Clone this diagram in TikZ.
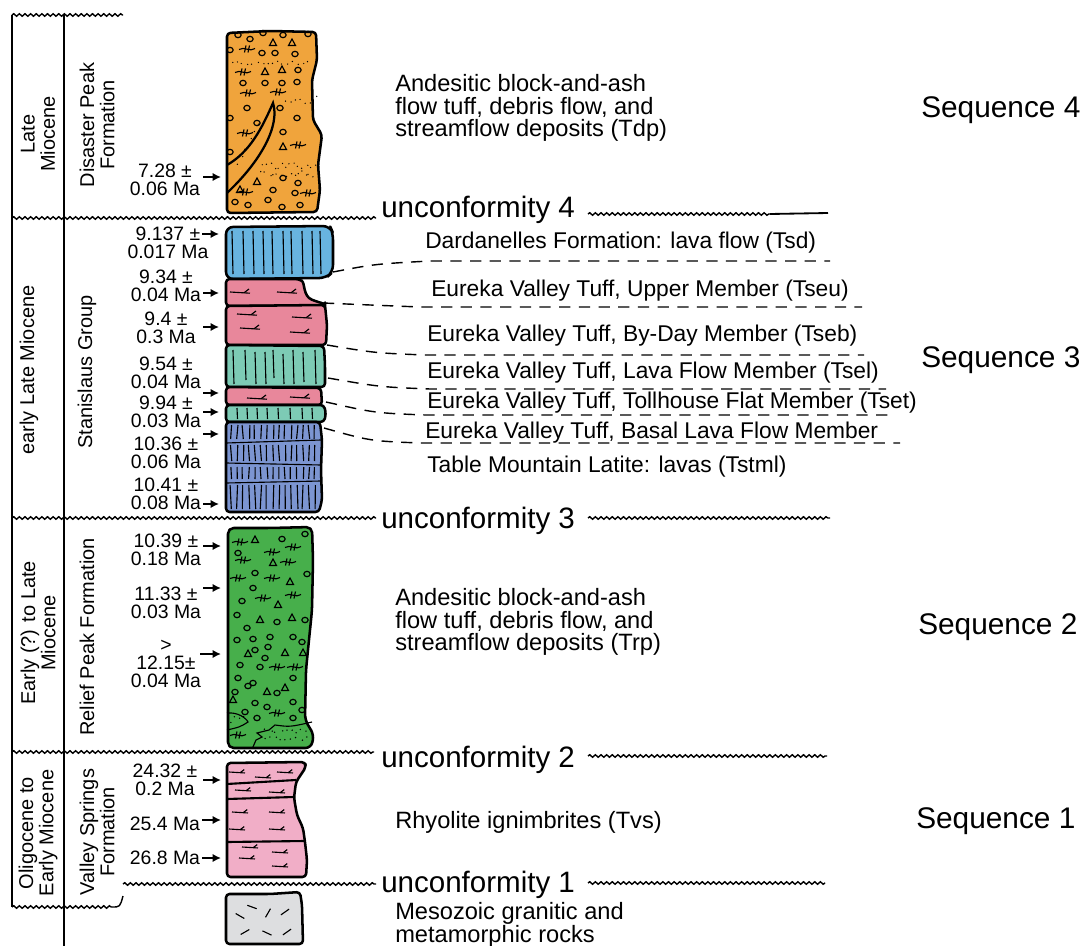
\documentclass[tikz,border=0pt]{standalone}
\usepackage{fontspec}
\setmainfont{Liberation Sans}
\usetikzlibrary{arrows.meta,decorations.pathmorphing,positioning}

\definecolor{tdporange}{HTML}{F0A43C}
\definecolor{tsdblue}{HTML}{68B4E0}
\definecolor{evtpink}{HTML}{E8879B}
\definecolor{evtgreen}{HTML}{7DCBB5}
\definecolor{tmlblue}{HTML}{7C95D1}
\definecolor{rpgreen}{HTML}{47AF4B}
\definecolor{vspink}{HTML}{F1AEC7}
\definecolor{granite}{HTML}{DDDEE0}

\tikzset{
  frame/.style={line width=1.4pt},
  unconf/.style={line width=1pt, decorate, decoration={snake, amplitude=0.9pt, segment length=4pt}},
  layer/.style={draw=black, line width=1.8pt, line join=round, rounded corners=2.5pt},
  hatch/.style={line width=0.8pt},
  contact/.style={line width=1pt, dash pattern=on 8pt off 6pt},
  agearrow/.style={line width=1.6pt, -{Latex[length=6pt,width=6pt]}},
  age/.style={align=center, inner sep=0pt, font=\fontsize{13.8}{12.8}\selectfont},
  unit/.style={rotate=90, align=center, inner sep=0pt, font=\fontsize{14.2}{14.4}\selectfont},
  desc/.style={anchor=west, align=left, inner sep=0pt, font=\fontsize{16.8}{16}\selectfont},
  member/.style={anchor=west, inner sep=0pt, font=\fontsize{16.2}{16}\selectfont},
  seq/.style={anchor=west, inner sep=0pt, font=\fontsize{21.2}{24}\selectfont},
  unclab/.style={anchor=base west, inner sep=0pt, font=\fontsize{21}{24}\selectfont},
  ring/.pic={\draw[hatch] (0,0) ellipse (2.3pt and 1.9pt);},
  tri/.pic={\draw[hatch] (-3.5,2.5) -- (3.5,2.5) -- (0,-4) -- cycle;},
  fmark/.pic={\draw[hatch] (-8,0.5) .. controls (-3,-3) and (3,3.5) .. (8,-0.5);
              \draw[hatch] (-1,-3.5) -- (-2.5,3.5); \draw[hatch] (2.5,-3.5) -- (1,3.5);},
  fiamme/.pic={\draw[hatch] (-10,0) -- (10,1.2); \draw[hatch] (4,0.8) -- (9,-3);},
}

\begin{document}
\begin{tikzpicture}[x=0.025cm, y=-0.025cm]
\pgfmathsetseed{11}
\useasboundingbox (0,0) rectangle (1087,946);

% frame of the age and unit columns
\draw[frame] (12,15) -- (12,907);
\draw[frame] (64,15) -- (64,946);
\draw[unconf] (12,15) -- (123,15);
\draw[unconf] (12,907) -- (112,907);
\draw[line width=1pt] (112,907) .. controls (120,907) .. (123,896);

% unconformities
\draw[unconf] (12,218) -- (376,218);
\draw[unconf] (588,214) -- (770,214);
\draw[line width=1.3pt] (770,214) -- (828,213);
\draw[unconf] (12,518) -- (376,518);
\draw[unconf] (588,518) -- (830,518);
\draw[unconf] (12,752) -- (374,752);
\draw[unconf] (588,756) -- (827,756);
\draw[unconf] (123,884) -- (376,884);
\draw[unconf] (588,883) -- (825,883);
\node[unclab] (unc4) at (381,218) {unconformity 4};
\node[unclab] (unc3) at (381,528) {unconformity 3};
\node[unclab] (unc2) at (381,767) {unconformity 2};
\node[unclab] (unc1) at (381,892) {unconformity 1};

% ages and formations
\node[unit] (ep1) at (38,134) {Late\\Miocene};
\node[unit] (fm1) at (97,125) {Disaster Peak\\Formation};
\node[unit] (ep2) at (29,370) {early Late Miocene};
\node[unit] (fm2) at (87,372) {Stanislaus Group};
\node[unit] (ep3) at (38,633) {Early (?) to Late\\Miocene};
\node[unit] (fm3) at (87,637) {Relief Peak Formation};
\node[unit] (ep4) at (38,833) {Oligocene to\\Early Miocene};
\node[unit] (fm4) at (97,832) {Valley Springs\\Formation};

% Disaster Peak Formation
\draw[layer, fill=tdporange] (227,33) -- (270,31) -- (316,32) -- (317,60) -- (312,80) -- (313,120)
  -- (322,135) -- (318,165) -- (320,190) -- (317,212) -- (227,213) -- cycle;
\foreach \x/\y in {238/35,250/39,263/33,283/35,308/34,230/50,262/53,275/53,295/54,298/70,
  243/83,265/83,282/83,297/82,247/108,257/123,297/118,280/108,230/118,283/132,230/152,
  273/190,268/200,283/178,298/183,295/193,235/202,248/205,282/207,300/205}
  \pic at (\x,\y) {ring};
\foreach \x/\y in {273/43,292/43,265/72,282/70,257/182,240/190,283/147}
  \pic at (\x,\y) {tri};
\foreach \x/\y in {247/49,243/72,248/93,278/92,245/133,298/145,245/192,308/193}
  \pic at (\x,\y) {fmark};
\foreach \x in {232,237,...,310} \fill ({\x+2*rand},{63+2*rand}) circle (0.5pt);
\foreach \x in {285,290,...,315} \fill ({\x+2*rand},{100+4*rand}) circle (0.5pt);
\foreach \x in {262,266,...,314} {
  \fill ({\x+2*rand},{166+3*rand}) circle (0.5pt);
  \fill ({\x+2*rand},{174+3*rand}) circle (0.5pt);
}
\draw[line width=1.6pt] (227,165) .. controls (250,152) and (262,128) .. (273,103)
  .. controls (280,125) and (262,160) .. (227,193);
\foreach \t in {0.2,0.3,...,0.8} \fill ({227+46*\t+2*rand},{178-75*\t+2*rand}) circle (0.5pt);

% Stanislaus Group
\draw[layer, fill=tsdblue, rounded corners=5pt] (226,227) -- (330,226) -- (333,233) -- (333,272)
  -- (326,278) -- (226,279) -- cycle;
\foreach \x in {232,243,253,263,272,283,291,302,312,320} \draw[hatch] (\x,231) -- ({\x+1},274);
\draw[layer, fill=evtpink] (226,279) -- (299,279) .. controls (305,283) and (303,296) .. (315,301)
  -- (325,304) -- (325,306) -- (226,306) -- cycle;
\draw[layer, fill=evtpink] (226,306) -- (325,305) -- (327,325) -- (326,345) -- (226,345) -- cycle;
\draw[layer, fill=evtgreen] (226,345) -- (324,346) -- (325,365) -- (325,387) -- (226,387) -- cycle;
\foreach \x/\a/\b in {233/350/384,245/350/380,255/352/384,265/352/384,273/350/378,283/354/384,293/350/384,303/352/382,315/350/384}
  \draw[hatch] (\x,\a) -- ({\x+1},\b);
\draw[layer, fill=evtpink] (226,387) -- (321,388) -- (322,405) -- (226,405) -- cycle;
\draw[layer, fill=evtgreen] (226,405) -- (324,405) -- (326,414) -- (324,422) -- (226,422) -- cycle;
\foreach \x in {237,247,257,267,278,290,302,312} \draw[hatch] (\x,408) -- ({\x+0.5},419);
\foreach \x/\y in {240/292,287/292,247/314,302/317,250/328,300/332,257/398,300/397}
  \pic at (\x,\y) {fiamme};
\draw[layer, fill=tmlblue] (226,422) -- (320,422) -- (322,440) -- (321,470) -- (322,500) -- (319,512)
  -- (226,512) -- cycle;
\draw[hatch] (226,443) -- (321,440);
\draw[hatch] (226,463) -- (321,465);
\draw[hatch] (226,483) -- (321,481);
\foreach \t/\b in {422/442,442/464,464/482,482/512}
  \foreach \x in {231,237,...,317} \draw[hatch] ({\x+rand},{\t+3}) -- ({\x+rand},{\b-3});

% Relief Peak Formation
\draw[layer, fill=rpgreen, rounded corners=4pt] (228,528) -- (270,528) -- (312,527) -- (313,560)
  -- (312,610) -- (306,670) -- (305,720) -- (314,735) -- (311,748) -- (228,748) -- cycle;
\foreach \x/\y in {282/539,305/534,238/553,255/573,307/574,253/588,242/601,237/615,277/622,305/620,
  247/628,270/637,293/637,253/639,237/640,302/642,268/647,255/650,265/658,240/665,260/667,238/678,
  253/683,293/678,248/686,235/692,277/693,293/702,255/703,267/707,245/712,302/710,293/718,257/718}
  \pic at (\x,\y) {ring};
\foreach \x/\y in {255/540,273/563,290/582,278/605,260/620,292/618,285/653,303/653,233/700,267/692,
  285/688,248/654}
  \pic at (\x,\y) {tri};
\foreach \x/\y in {240/542,272/552,293/547,243/560,288/562,238/578,272/578,263/598,293/595,277/667,
  295/667,277/713,238/735}
  \pic at (\x,\y) {fmark};
\draw[hatch] (227,713) .. controls (238,712) and (246,718) .. (248,722) .. controls (240,727) .. (227,730);
\draw[hatch] (253,747) -- (256,740) -- (262,737) -- (257,733) -- (269,730) -- (275,725)
  .. controls (290,727) .. (312,722);
\foreach \x in {231,235,...,243} \fill ({\x+rand},{721+5*rand}) circle (0.55pt);
\foreach \x in {266,271,...,308} {
  \fill ({\x+2*rand},{731+2*rand}) circle (0.55pt);
  \fill ({\x+2*rand},{739+2*rand}) circle (0.55pt);
}

% Valley Springs Formation
\draw[layer, fill=vspink] (227,763) -- (305,762) -- (306,767) -- (296,782) -- (294,798) -- (297,815)
  -- (303,828) -- (305,842) -- (307,860) -- (306,877) -- (227,877) -- cycle;
\draw[line width=1.5pt] (227,784) -- (296,780);
\draw[line width=1.5pt] (227,799) -- (294,797);
\draw[line width=1.5pt] (227,842) -- (305,841);
\foreach \x/\y in {237/772,263/777,285/772,243/790,277/792,240/812,277/812,237/829,277/829,
  250/847,280/852,247/858,280/866}
  \pic[scale=0.8] at (\x,\y) {fiamme};

% basement
\draw[layer, fill=granite] (226,894) -- (270,894) -- (300,892) -- (302,905) -- (303,944) -- (226,944) -- cycle;
\foreach \x/\y/\a in {240/916/-30,252/907/-20,268/913/60,285/912/35,245/932/30,267/933/-25,287/932/35}
  \draw[hatch] ({\x-5*cos(\a)},{\y+5*sin(\a)}) -- ({\x+5*cos(\a)},{\y-5*sin(\a)});

% dated samples
\node[age] (d1) at (165,180) {7.28 ±\\0.06 Ma};
\node[age] (d2) at (168,243) {9.137 ±\\0.017 Ma};
\node[age] (d3) at (166,286) {9.34 ±\\0.04 Ma};
\node[age] (d4) at (166,328) {9.4 ±\\0.3 Ma};
\node[age] (d5) at (166,373) {9.54 ±\\0.04 Ma};
\node[age] (d6) at (166,412) {9.94 ±\\0.03 Ma};
\node[age] (d7) at (166,453) {10.36 ±\\0.06 Ma};
\node[age] (d8) at (166,494) {10.41 ±\\0.08 Ma};
\node[age] (d9) at (166,550) {10.39 ±\\0.18 Ma};
\node[age] (d10) at (166,603) {11.33 ±\\0.03 Ma};
\node[age] (d11) at (166,664) {>\\12.15±\\0.04 Ma};
\node[age] (d12) at (165,780) {24.32 ±\\0.2 Ma};
\node[age] (d13) at (165,824) {25.4 Ma};
\node[age] (d14) at (165,858) {26.8 Ma};
\foreach \n/\y/\xa/\xb in {1/177/203/221,2/234/202/219,3/293/203/219,4/327/203/219,5/393/203/219,
  6/412/203/219,7/434/203/219,8/504/203/219,9/546/203/221,10/588/203/221,11/654/200/221,
  12/780/203/221,13/820/202/221,14/858/202/221} {
  \coordinate (as\n) at (\xa,\y);
  \coordinate (ae\n) at (\xb,\y);
  \draw[agearrow] (as\n) -- (ae\n);
}

% contacts to the member names
\coordinate (k1a) at (333,272); \coordinate (k1b) at (430,261); \coordinate (k1c) at (830,261);
\coordinate (k2a) at (323,303); \coordinate (k2b) at (420,307); \coordinate (k2c) at (862,307);
\coordinate (k3a) at (327,345); \coordinate (k3b) at (425,355); \coordinate (k3c) at (864,355);
\coordinate (k4a) at (328,378); \coordinate (k4b) at (430,389); \coordinate (k4c) at (886,389);
\coordinate (k5a) at (326,402); \coordinate (k5b) at (425,415); \coordinate (k5c) at (888,415);
\coordinate (k6a) at (324,428); \coordinate (k6b) at (420,443); \coordinate (k6c) at (900,443);
\draw[contact] (k1a) .. controls (375,264) .. (k1b) -- (k1c);
\draw[contact] (k2a) .. controls (370,305) .. (k2b) -- (k2c);
\draw[contact] (k3a) .. controls (375,353) .. (k3b) -- (k3c);
\draw[contact] (k4a) .. controls (380,387) .. (k4b) -- (k4c);
\draw[contact] (k5a) .. controls (375,413) .. (k5b) -- (k5c);
\draw[contact] (k6a) .. controls (370,441) .. (k6b) -- (k6c);

% descriptions
\node[desc] (tdp) at (395,108) {Andesitic block-and-ash\\flow tuff, debris flow, and\\streamflow deposits (Tdp)};
\node[member] (tsd) at (425,243) {Dardanelles Formation: lava flow (Tsd)};
\node[member] (tseu) at (431,291) {Eureka Valley Tuff, Upper Member (Tseu)};
\node[member] (tseb) at (427,336) {Eureka Valley Tuff, By-Day Member (Tseb)};
\node[member] (tsel) at (427,373) {Eureka Valley Tuff, Lava Flow Member (Tsel)};
\node[member] (tset) at (427,403) {Eureka Valley Tuff, Tollhouse Flat Member (Tset)};
\node[member] (tsbl) at (425,433) {Eureka Valley Tuff, Basal Lava Flow Member};
\node[member] (tstml) at (427,467) {Table Mountain Latite: lavas (Tstml)};
\node[desc] (trp) at (395,622) {Andesitic block-and-ash\\flow tuff, debris flow, and\\streamflow deposits (Trp)};
\node[desc] (tvs) at (395,822) {Rhyolite ignimbrites (Tvs)};
\node[desc] (mzg) at (395,925) {Mesozoic granitic and\\metamorphic rocks};

% sequences
\node[seq] (seq4) at (921,110) {Sequence 4};
\node[seq] (seq3) at (921,360) {Sequence 3};
\node[seq] (seq2) at (918,627) {Sequence 2};
\node[seq] (seq1) at (916,821) {Sequence 1};

\end{tikzpicture}
\end{document}
